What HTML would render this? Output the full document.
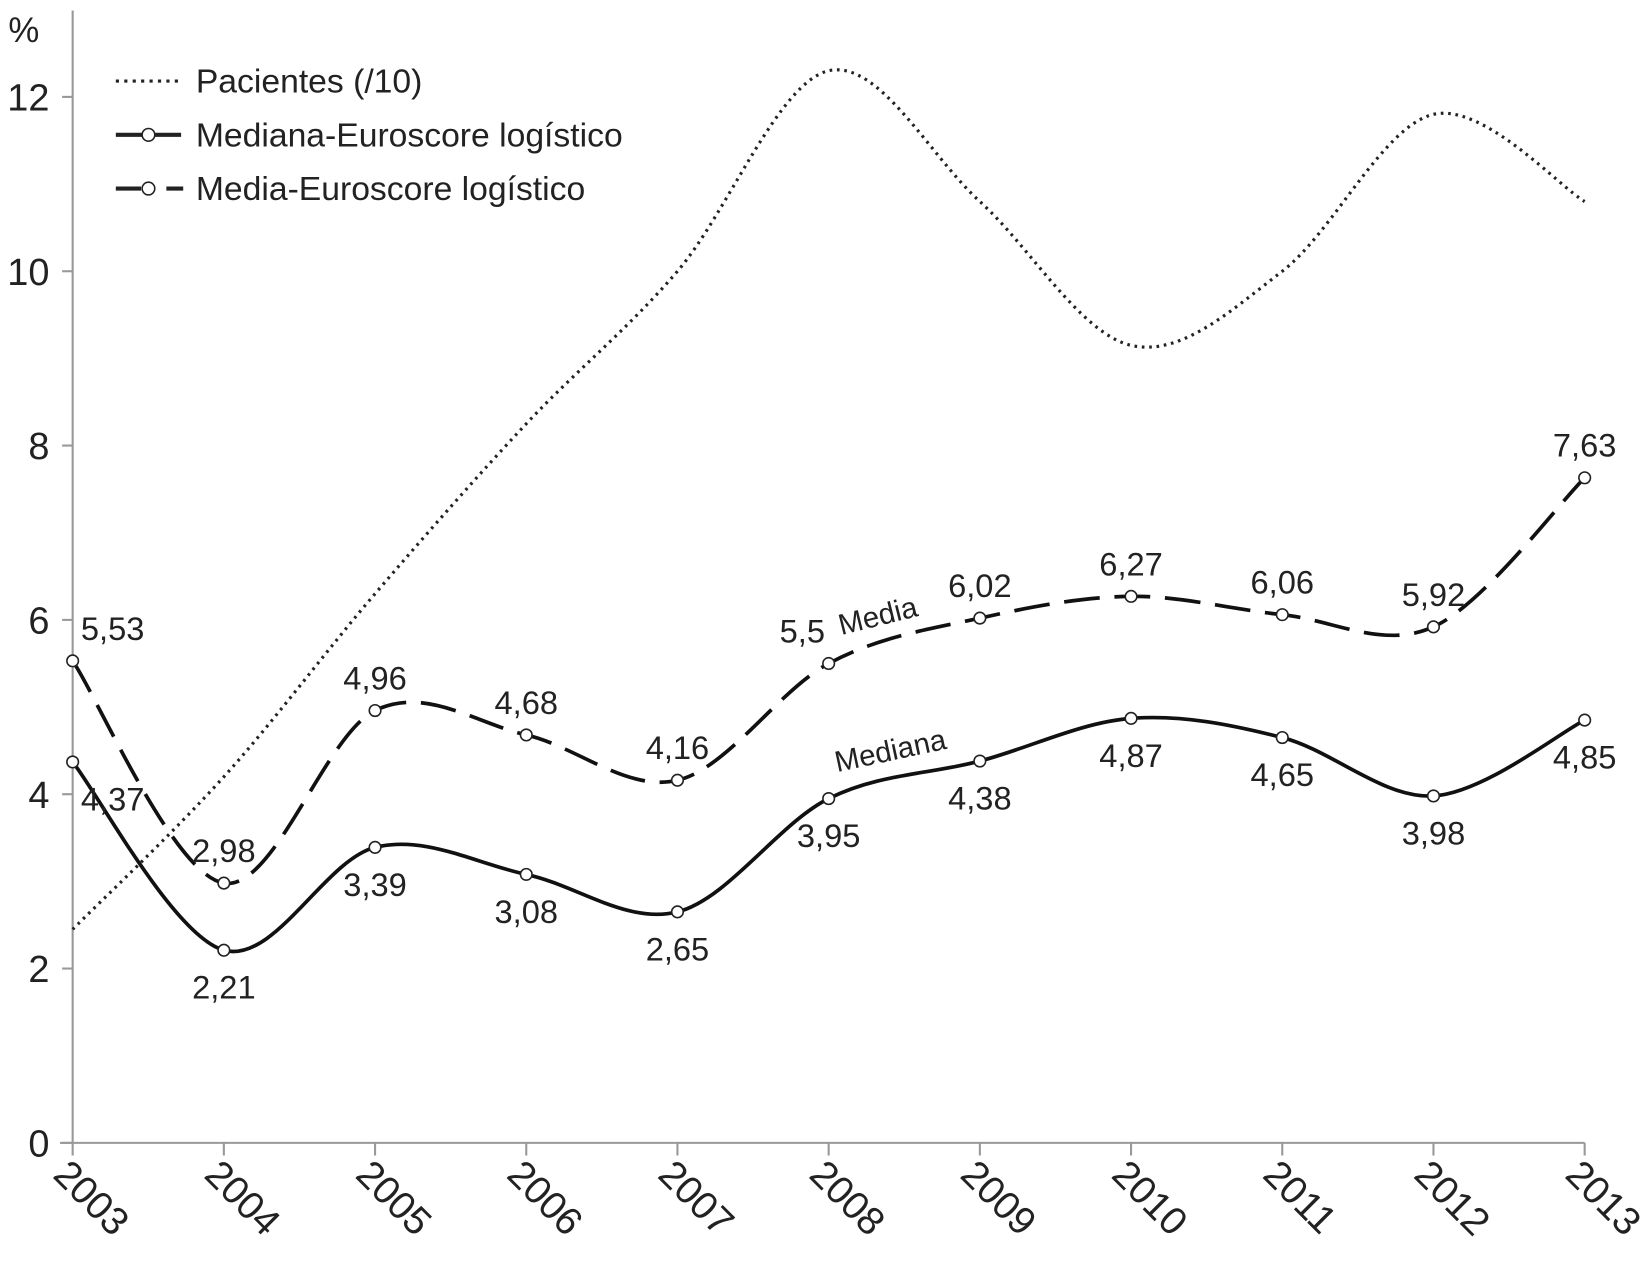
<!DOCTYPE html>
<html><head><meta charset="utf-8"><style>
body{margin:0;background:#fff}
svg{display:block;font-family:"Liberation Sans",Arial,sans-serif}
</style></head><body>
<svg id="chart" width="1651" height="1264" viewBox="0 0 1568 1200" preserveAspectRatio="none" xmlns="http://www.w3.org/2000/svg">
<g id="axes"></g><g id="series"></g><g id="labels"></g>
<g>
 <line x1="110" y1="77" x2="172" y2="77" stroke="#222" stroke-width="3" stroke-dasharray="3,5"/>
 <text x="186" y="88" font-size="32" fill="#222">Pacientes (/10)</text>
 <line x1="110" y1="128" x2="172" y2="128" stroke="#222" stroke-width="4"/>
 <circle cx="141" cy="128" r="6" fill="#fff" stroke="#222" stroke-width="1.5"/>
 <text x="186" y="139" font-size="32" fill="#222">Mediana-Euroscore logístico</text>
 <line x1="110" y1="179" x2="134" y2="179" stroke="#222" stroke-width="4"/>
 <line x1="158" y1="179" x2="174" y2="179" stroke="#222" stroke-width="4"/>
 <circle cx="141" cy="179" r="6" fill="#fff" stroke="#222" stroke-width="1.5"/>
 <text x="186" y="190" font-size="32" fill="#222">Media-Euroscore logístico</text>
</g>
<text x="8" y="40" font-size="33" fill="#222">%</text>
<text x="799" y="603" font-size="28" fill="#222" transform="rotate(-14 799 603)">Media</text>
<text x="795" y="733" font-size="28" fill="#222" transform="rotate(-12 795 733)">Mediana</text>
</svg>
<script>
const years=["2003","2004","2005","2006","2007","2008","2009","2010","2011","2012","2013"];
const pacientes=[2.45,4.2,6.3,8.25,10.0,12.3,10.8,9.15,10.0,11.8,10.8];
const mediana=[4.37,2.21,3.39,3.08,2.65,3.95,4.38,4.87,4.65,3.98,4.85];
const media=[5.53,2.98,4.96,4.68,4.16,5.5,6.02,6.27,6.06,5.92,7.63];
const medianaLabels=["4,37","2,21","3,39","3,08","2,65","3,95","4,38","4,87","4,65","3,98","4,85"];
const mediaLabels=["5,53","2,98","4,96","4,68","4,16","5,5","6,02","6,27","6,06","5,92","7,63"];
const yTicks=[0,2,4,6,8,10,12];

const X0=69,X1=1505,Y0=1085,YS=82.75;
const xs=i=>X0+i*(X1-X0)/(years.length-1);
const ys=v=>Y0-v*YS;
const NS="http://www.w3.org/2000/svg";
function mk(tag,attrs,parent){const e=document.createElementNS(NS,tag);for(const k in attrs)e.setAttribute(k,attrs[k]);parent.appendChild(e);return e;}
const axes=document.getElementById('axes'),series=document.getElementById('series'),labels=document.getElementById('labels');

let ax=mk('line',{x1:X0,y1:10,x2:X0,y2:Y0,stroke:'#999','stroke-width':2},axes);


let bx=mk('line',{x1:X0-12,y1:Y0,x2:X1,y2:Y0,stroke:'#999','stroke-width':2},axes);


yTicks.forEach(v=>{
  mk('line',{x1:X0-10,y1:ys(v),x2:X0,y2:ys(v),stroke:'#999','stroke-width':2},axes);
  const t=mk('text',{x:X0-22,y:ys(v)+13,'font-size':36,'text-anchor':'end',fill:'#222'},axes);
  t.textContent=v;
  
  
});
years.forEach((y,i)=>{
  mk('line',{x1:xs(i),y1:Y0,x2:xs(i),y2:Y0+12,stroke:'#999','stroke-width':2},axes);
  const t=mk('text',{x:0,y:0,'font-size':37,fill:'#222',transform:`translate(${xs(i)-20},${Y0+32}) rotate(45)`},axes);
  t.textContent=y;
  
  
});
function smooth(vals){
  const p=vals.map((v,i)=>[xs(i),ys(v)]);
  let d=`M${p[0][0]},${p[0][1]}`;const k=1/6;
  for(let i=0;i<p.length-1;i++){
    const a=p[Math.max(0,i-1)],b=p[i],c=p[i+1],e=p[Math.min(p.length-1,i+2)];
    d+=` C${b[0]+(c[0]-a[0])*k},${b[1]+(c[1]-a[1])*k} ${c[0]-(e[0]-b[0])*k},${c[1]-(e[1]-b[1])*k} ${c[0]},${c[1]}`;
  }
  return d;
}
let p1=mk('path',{d:smooth(pacientes),fill:'none',stroke:'#222','stroke-width':3,'stroke-dasharray':'2.5,4.5'},series);


let p2=mk('path',{d:smooth(mediana),fill:'none',stroke:'#111','stroke-width':3.5},series);


let p3=mk('path',{d:smooth(media),fill:'none',stroke:'#111','stroke-width':3.5,'stroke-dasharray':'34,14'},series);


function pts(vals,labs,name,below,dx){
  vals.forEach((v,i)=>{
    const c=mk('circle',{cx:xs(i),cy:ys(v),r:5.5,fill:'#fff',stroke:'#222','stroke-width':1.5},series);
    
    
    let ly=below[i]?ys(v)+46:ys(v)-20, lx=xs(i)+dx[i];
    const t=mk('text',{x:lx,y:ly,'font-size':31,'text-anchor':'middle',fill:'#222'},labels);
    t.textContent=labs[i];
    
    
  });
}
pts(mediana,medianaLabels,'mediana',[1,1,1,1,1,1,1,1,1,1,1],[38,0,0,0,0,0,0,0,0,0,0]);
pts(media,mediaLabels,'media',[0,0,0,0,0,0,0,0,0,0,0],[38,0,0,0,0,-25,0,0,0,0,0]);
</script>
</body></html>
